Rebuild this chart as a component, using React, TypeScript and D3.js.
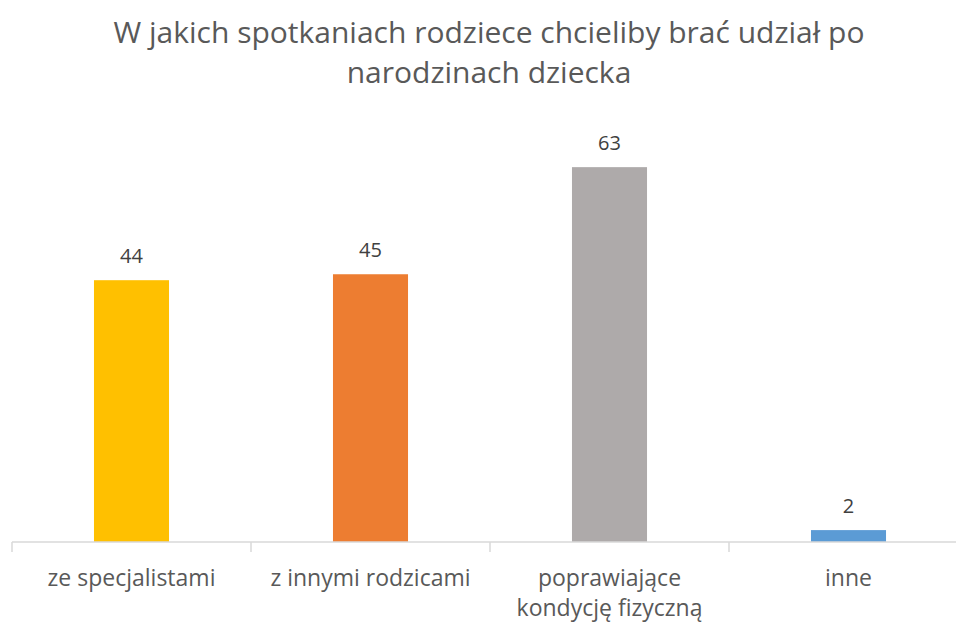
import * as d3 from "d3";

const categories = ["ze specjalistami", "z innymi rodzicami", "poprawiające|kondycję fizyczną", "inne"];
const values = [44, 45, 63, 2];
const barColors = ["#FFC000", "#ED7D31", "#AEAAAA", "#5B9BD5"];
const titleLines = ["W jakich spotkaniach rodziece chcieliby brać udział po", "narodzinach dziecka"];

const W = 956;
const H = 624;
const FONT = "'Open Sans', 'Noto Sans', sans-serif";

const App = () => {
  // plot area: axis at y=542, band range runs past the right edge like the original
  const x = d3.scaleBand<string>().domain(categories).range([12, 968]).paddingInner(0.686).paddingOuter(0.343);
  const y = d3.scaleLinear().domain([0, 70]).range([542, 125.5]);
  const ticks = [...categories.map((c) => x(c)! - x.step() * 0.343), 968];

  return (
    <div style={{ position: "fixed", left: 0, top: 0 }}>
      <svg width={W} height={H} style={{ display: "block", background: "#fff" }}>
        {titleLines.map((t, i) => (
          <text key={i} x={489} y={43 + i * 40} textAnchor="middle" fontFamily={FONT} fontSize={30} fill="#595959">
            {t}
          </text>
        ))}

        {categories.map((c, i) => (
          <rect key={c} x={x(c)} y={y(values[i])} width={x.bandwidth()} height={y(0) - y(values[i])} fill={barColors[i]} />
        ))}

        {categories.map((c, i) => (
          <text
            key={c}
            x={x(c)! + x.bandwidth() / 2}
            y={y(values[i]) - 17.5}
            textAnchor="middle"
            fontFamily={FONT}
            fontSize={20}
            fill="#404040"
          >
            {values[i]}
          </text>
        ))}

        <line x1={12} x2={968} y1={y(0)} y2={y(0)} stroke="#D9D9D9" strokeWidth={1.5} />
        {ticks.map((t, i) => (
          <line key={i} x1={t} x2={t} y1={y(0)} y2={y(0) + 10} stroke="#D9D9D9" strokeWidth={1.5} />
        ))}

        {categories.map((c) =>
          c.split("|").map((line, j) => (
            <text
              key={c + j}
              x={x(c)! + x.bandwidth() / 2}
              y={586 + j * 30}
              textAnchor="middle"
              fontFamily={FONT}
              fontSize={23}
              fill="#595959"
            >
              {line}
            </text>
          ))
        )}
      </svg>
    </div>
  );
};

export default App;
